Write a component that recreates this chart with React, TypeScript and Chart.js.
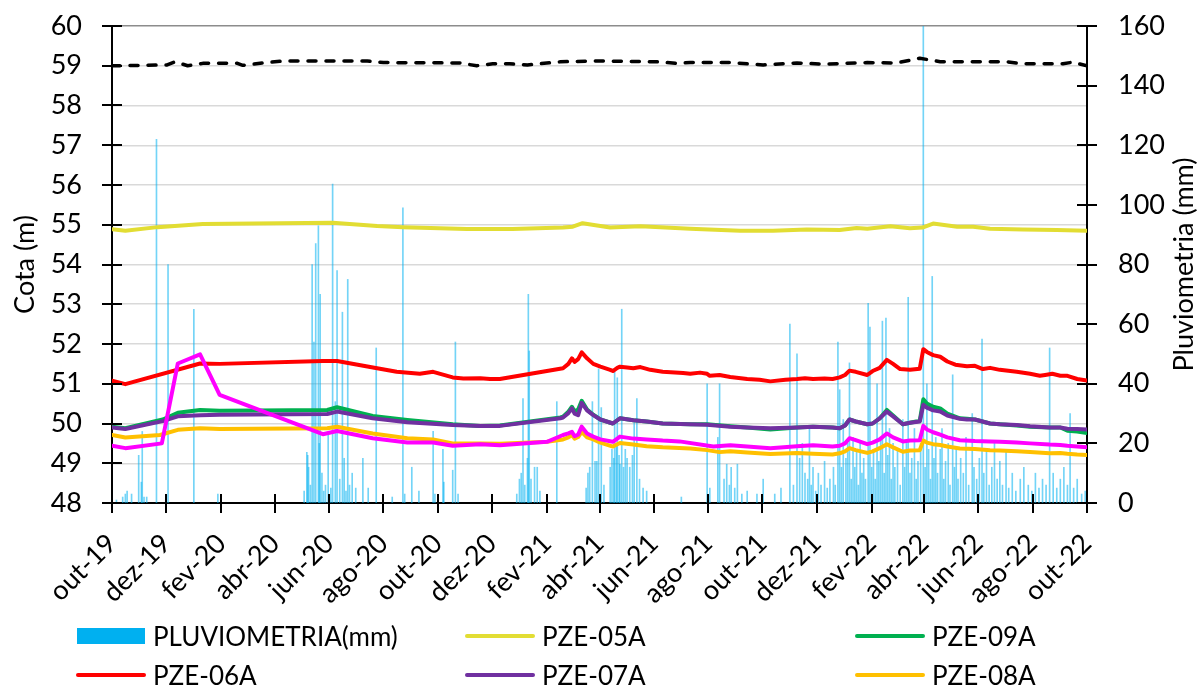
import React, { useEffect, useRef } from "react";
import { Chart, registerables } from "chart.js";

Chart.register(...registerables);

const FONT = "Lato, 'Open Sans', sans-serif";
const FONT_SIZE = 27;
const LEGEND_FONT_SIZE = 26;

// Day offsets (from 1 Oct 2019) of the two-monthly axis ticks and their labels
const monthTickDays = [0, 61, 123, 183, 244, 305, 366, 427, 489, 548, 609, 670, 731, 792, 854, 913, 974, 1035, 1096];
const monthTickLabels = [
  "out-19", "dez-19", "fev-20", "abr-20", "jun-20", "ago-20", "out-20", "dez-20", "fev-21",
  "abr-21", "jun-21", "ago-21", "out-21", "dez-21", "fev-22", "abr-22", "jun-22", "ago-22", "out-22",
];

const cotaTicks = [48, 49, 50, 51, 52, 53, 54, 55, 56, 57, 58, 59, 60];
const pluvTicks = [0, 20, 40, 60, 80, 100, 120, 140, 160];

// Daily rainfall [day, mm]
const rainfall: [number, number][] = [
  [5, 1], [12, 2], [15, 3], [17, 4], [22, 3], [30, 16], [33, 7], [34, 24], [36, 2], [39, 2], [50, 122], [63, 80], [92, 65], [119, 3],
  [216, 4], [219, 17], [220, 16], [221, 12], [223, 6], [225, 80], [227, 54], [229, 87], [232, 93], [233, 20], [234, 70], [236, 10],
  [238, 4], [240, 6], [243, 23], [246, 5], [248, 107], [251, 34], [253, 78], [256, 8], [259, 64], [261, 15], [263, 4], [265, 75],
  [267, 6], [270, 10], [274, 5], [282, 15], [288, 5], [297, 52], [315, 2],
  [327, 99], [329, 3], [337, 12], [345, 4], [361, 24], [363, 3], [372, 18], [373, 7], [383, 11], [386, 54], [389, 3],
  [455, 3], [458, 8], [460, 10], [462, 35], [464, 6], [467, 15], [468, 70], [469, 51], [471, 8], [475, 12], [478, 12], [481, 4], [500, 34],
  [533, 5], [535, 10], [537, 12], [540, 34], [543, 14], [545, 14], [547, 45], [550, 32], [553, 6], [560, 12], [562, 18], [564, 15],
  [565, 44], [567, 20], [568, 42], [570, 16], [571, 13], [573, 65], [575, 12], [577, 18], [579, 15], [582, 12], [585, 16], [587, 27],
  [590, 35], [593, 8], [597, 5], [601, 4],
  [640, 2], [669, 40], [672, 5], [681, 22], [683, 40], [688, 8], [691, 13], [694, 6], [696, 12], [700, 5], [703, 13], [708, 3],
  [714, 4], [725, 3], [732, 8],
  [745, 3], [752, 5], [762, 60], [766, 6], [770, 50], [773, 15], [776, 20], [779, 10], [782, 8], [784, 25], [786, 6], [788, 12],
  [791, 4], [794, 10], [797, 6], [801, 14], [804, 5], [807, 8], [811, 12], [813, 6], [816, 54], [818, 38], [820, 12], [822, 28],
  [825, 15], [827, 20], [829, 47], [831, 8], [833, 22], [835, 12], [837, 18], [839, 6], [841, 20], [843, 10], [845, 15], [847, 8],
  [850, 67], [852, 59], [854, 12], [856, 18], [858, 8], [860, 40], [862, 14], [864, 22], [866, 61], [868, 10], [870, 62], [872, 16],
  [874, 25], [876, 8], [878, 20], [880, 12], [883, 18], [886, 6], [889, 28], [891, 12], [893, 20], [895, 69], [897, 10], [899, 15],
  [902, 25], [904, 8], [906, 14], [909, 20], [912, 165], [914, 12], [916, 40], [918, 18], [920, 8], [922, 76], [924, 15], [926, 22],
  [928, 10], [931, 18], [933, 25], [935, 8], [937, 14], [940, 20], [942, 6], [945, 43], [947, 12], [949, 18], [951, 8], [954, 15],
  [957, 10], [960, 22], [963, 6], [967, 30], [969, 12], [972, 8], [975, 15], [978, 55], [980, 10], [983, 18], [986, 6], [989, 12],
  [992, 20], [995, 8], [998, 14], [1001, 6], [1005, 18], [1008, 5], [1012, 10], [1016, 4], [1021, 8], [1025, 12], [1030, 6],
  [1034, 4], [1038, 10], [1042, 5], [1046, 8], [1050, 6], [1054, 52], [1058, 10], [1062, 5], [1066, 8], [1070, 12], [1074, 6],
  [1077, 30], [1081, 5], [1085, 8], [1090, 3], [1094, 4],
];

// Piezometer water levels [day, m]
const pze05a: [number, number][] = [
  [0, 54.89], [15, 54.85], [51, 54.94], [102, 55.02], [248, 55.05], [298, 54.97], [327, 54.94], [399, 54.89], [450, 54.89],
  [507, 54.93], [518, 54.95], [529, 55.04], [549, 54.97], [560, 54.93], [594, 54.96], [650, 54.9], [706, 54.85], [743, 54.85],
  [781, 54.88], [818, 54.87], [837, 54.92], [849, 54.9], [875, 54.96], [897, 54.91], [911, 54.93], [923, 55.03], [950, 54.95],
  [968, 54.95], [987, 54.9], [1024, 54.88], [1062, 54.87], [1096, 54.85],
];

const pze09a: [number, number][] = [
  [0, 49.92], [15, 49.88], [57, 50.1], [74, 50.27], [99, 50.34], [121, 50.32], [242, 50.34], [253, 50.41], [293, 50.19],
  [332, 50.09], [383, 49.98], [414, 49.94], [436, 49.95], [504, 50.15], [507, 50.17], [513, 50.3], [517, 50.42], [520, 50.3],
  [524, 50.35], [528, 50.57], [534, 50.35], [541, 50.22], [549, 50.1], [563, 50.0], [571, 50.13], [586, 50.08], [601, 50.05],
  [619, 50.0], [650, 49.98], [669, 49.98], [695, 49.93], [714, 49.9], [740, 49.85], [770, 49.9], [788, 49.92], [810, 49.9],
  [818, 49.88], [824, 49.95], [829, 50.1], [836, 50.05], [849, 49.98], [855, 50.0], [863, 50.13], [871, 50.34], [878, 50.2],
  [889, 49.98], [897, 50.02], [908, 50.07], [912, 50.61], [916, 50.5], [923, 50.42], [931, 50.38], [939, 50.25], [953, 50.13],
  [961, 50.12], [970, 50.1], [987, 50.0], [998, 49.98], [1017, 49.95], [1032, 49.92], [1054, 49.9], [1066, 49.9], [1074, 49.82],
  [1085, 49.8], [1096, 49.76],
];

const pze06a: [number, number][] = [
  [0, 51.08], [15, 50.99], [99, 51.51], [121, 51.5], [237, 51.57], [253, 51.57], [298, 51.39], [320, 51.3], [346, 51.25],
  [361, 51.3], [383, 51.16], [395, 51.13], [414, 51.14], [425, 51.12], [436, 51.12], [507, 51.39], [513, 51.5], [517, 51.64],
  [520, 51.55], [524, 51.62], [528, 51.79], [534, 51.64], [541, 51.5], [549, 51.43], [560, 51.35], [563, 51.32], [568, 51.4],
  [571, 51.43], [579, 51.41], [586, 51.39], [594, 51.42], [605, 51.35], [619, 51.3], [642, 51.27], [650, 51.25], [661, 51.28],
  [669, 51.25], [672, 51.2], [683, 51.22], [695, 51.17], [714, 51.12], [728, 51.1], [740, 51.06], [757, 51.1], [770, 51.12],
  [779, 51.14], [788, 51.12], [801, 51.13], [810, 51.12], [818, 51.16], [824, 51.22], [829, 51.33], [836, 51.3], [849, 51.22],
  [855, 51.32], [863, 51.4], [871, 51.6], [878, 51.5], [886, 51.37], [897, 51.35], [908, 51.38], [912, 51.87], [916, 51.8],
  [923, 51.72], [931, 51.68], [939, 51.56], [948, 51.48], [961, 51.44], [970, 51.45], [979, 51.37], [987, 51.4], [998, 51.35],
  [1017, 51.3], [1032, 51.25], [1043, 51.2], [1049, 51.22], [1057, 51.25], [1066, 51.2], [1074, 51.2], [1085, 51.12], [1096, 51.08],
];

const pze07a: [number, number][] = [
  [0, 49.9], [15, 49.86], [57, 50.06], [74, 50.18], [99, 50.21], [121, 50.22], [242, 50.24], [253, 50.3], [293, 50.13],
  [332, 50.03], [383, 49.96], [414, 49.94], [436, 49.94], [504, 50.13], [507, 50.15], [513, 50.26], [517, 50.38], [520, 50.25],
  [524, 50.21], [528, 50.52], [534, 50.33], [541, 50.21], [549, 50.1], [563, 50.0], [571, 50.13], [586, 50.08], [601, 50.05],
  [619, 50.0], [638, 49.99], [669, 49.97], [695, 49.92], [714, 49.9], [740, 49.88], [770, 49.9], [788, 49.92], [810, 49.9],
  [818, 49.88], [824, 49.95], [829, 50.1], [836, 50.05], [849, 49.98], [855, 50.0], [863, 50.13], [871, 50.3], [878, 50.18],
  [889, 49.98], [897, 50.02], [908, 50.05], [912, 50.47], [916, 50.4], [923, 50.33], [931, 50.3], [939, 50.2], [953, 50.12],
  [961, 50.1], [970, 50.1], [987, 50.0], [998, 49.98], [1017, 49.96], [1032, 49.93], [1054, 49.9], [1066, 49.9], [1074, 49.87],
  [1085, 49.86], [1096, 49.85],
];

const pze08a: [number, number][] = [
  [0, 49.71], [15, 49.65], [54, 49.71], [74, 49.84], [99, 49.88], [121, 49.86], [242, 49.88], [253, 49.92], [293, 49.75],
  [332, 49.63], [361, 49.6], [383, 49.5], [414, 49.5], [436, 49.49], [489, 49.54], [507, 49.6], [513, 49.65], [517, 49.71],
  [520, 49.62], [524, 49.66], [528, 49.79], [534, 49.65], [541, 49.6], [549, 49.52], [563, 49.42], [571, 49.51], [586, 49.47],
  [601, 49.43], [619, 49.4], [650, 49.37], [669, 49.33], [683, 49.28], [695, 49.3], [714, 49.27], [740, 49.23], [770, 49.26],
  [788, 49.24], [810, 49.22], [818, 49.25], [824, 49.3], [829, 49.38], [836, 49.33], [849, 49.26], [855, 49.3], [863, 49.38],
  [871, 49.48], [878, 49.4], [889, 49.29], [897, 49.32], [908, 49.33], [912, 49.57], [916, 49.52], [923, 49.48], [931, 49.46],
  [939, 49.42], [953, 49.37], [970, 49.36], [987, 49.33], [998, 49.32], [1017, 49.3], [1032, 49.28], [1054, 49.25], [1066, 49.26],
  [1074, 49.24], [1085, 49.22], [1096, 49.21],
];

const pzeMagenta: [number, number][] = [
  [0, 49.44], [15, 49.38], [56, 49.5], [74, 51.51], [99, 51.74], [121, 50.72], [237, 49.73], [253, 49.81], [293, 49.63],
  [332, 49.52], [361, 49.52], [383, 49.44], [414, 49.48], [436, 49.45], [489, 49.54], [507, 49.71], [513, 49.75], [517, 49.79],
  [520, 49.68], [524, 49.72], [528, 49.92], [534, 49.75], [541, 49.67], [549, 49.6], [563, 49.54], [571, 49.67], [586, 49.62],
  [601, 49.6], [619, 49.57], [638, 49.55], [676, 49.42], [695, 49.45], [714, 49.42], [740, 49.38], [770, 49.43], [788, 49.45],
  [810, 49.42], [818, 49.44], [824, 49.5], [829, 49.63], [836, 49.58], [849, 49.48], [855, 49.52], [863, 49.6], [871, 49.75],
  [878, 49.65], [889, 49.55], [897, 49.57], [908, 49.58], [912, 49.94], [916, 49.85], [923, 49.78], [931, 49.72], [939, 49.65],
  [953, 49.58], [970, 49.56], [987, 49.55], [998, 49.54], [1017, 49.52], [1032, 49.5], [1054, 49.47], [1066, 49.46], [1074, 49.44],
  [1085, 49.42], [1096, 49.4],
];

const pzeBlack: [number, number][] = [
  [0, 59.0], [62, 59.02], [71, 59.1], [85, 59.0], [102, 59.06], [141, 59.06], [147, 59.01], [170, 59.07], [192, 59.12],
  [287, 59.12], [305, 59.08], [391, 59.07], [410, 59.0], [428, 59.05], [447, 59.05], [467, 59.02], [504, 59.1], [545, 59.12],
  [613, 59.1], [635, 59.06], [650, 59.08], [695, 59.08], [732, 59.02], [770, 59.07], [799, 59.04], [849, 59.08], [882, 59.07],
  [908, 59.19], [931, 59.1], [1006, 59.1], [1024, 59.05], [1069, 59.05], [1080, 59.09], [1096, 59.0],
];

const COLORS = {
  rain: "#00B0F0",
  pze05a: "#E2DD33",
  pze09a: "#00B050",
  pze06a: "#FF0000",
  pze07a: "#7030A0",
  pze08a: "#FFC000",
  magenta: "#FF00FF",
  black: "#000000",
};

const legendItems = [
  { label: "PLUVIOMETRIA(mm)", color: COLORS.rain, box: true },
  { label: "PZE-05A", color: COLORS.pze05a, box: false },
  { label: "PZE-09A", color: COLORS.pze09a, box: false },
  { label: "PZE-06A", color: COLORS.pze06a, box: false },
  { label: "PZE-07A", color: COLORS.pze07a, box: false },
  { label: "PZE-08A", color: COLORS.pze08a, box: false },
];

const toPoints = (s: [number, number][]) => s.map(([x, y]) => ({ x, y }));

const lineSet = (label: string, data: [number, number][], color: string, order: number, extra: any = {}) => ({
  type: "line" as const,
  label,
  data: toPoints(data),
  yAxisID: "y",
  borderColor: color,
  backgroundColor: color,
  borderWidth: 4,
  pointRadius: 0,
  tension: 0,
  fill: false,
  borderJoinStyle: "round" as const,
  borderCapStyle: "round" as const,
  order,
  ...extra,
});

// Tick marks crossing the axes and the two rotated axis titles
const axisDecor = {
  id: "axisDecor",
  afterDraw(chart: any) {
    const { ctx, scales, chartArea } = chart;
    const { x, y, y1 } = scales;
    ctx.save();
    ctx.strokeStyle = "#000";
    ctx.lineWidth = 2;
    ctx.beginPath();
    y.ticks.forEach((t: any) => {
      const py = Math.round(y.getPixelForValue(t.value));
      ctx.moveTo(y.right - 10, py);
      ctx.lineTo(y.right + 10, py);
    });
    y1.ticks.forEach((t: any) => {
      const py = Math.round(y1.getPixelForValue(t.value));
      ctx.moveTo(y1.left - 10, py);
      ctx.lineTo(y1.left + 10, py);
    });
    x.ticks.forEach((t: any) => {
      const px = Math.round(x.getPixelForValue(t.value));
      ctx.moveTo(px, x.top - 9);
      ctx.lineTo(px, x.top + 10);
    });
    ctx.stroke();

    const midY = (chartArea.top + chartArea.bottom) / 2;
    ctx.fillStyle = "#000";
    ctx.font = `${FONT_SIZE}px ${FONT}`;
    ctx.textAlign = "center";
    ctx.textBaseline = "middle";
    ctx.save();
    ctx.translate(25, midY);
    ctx.rotate(-Math.PI / 2);
    ctx.fillText("Cota (m)", 0, 0);
    ctx.restore();
    ctx.save();
    ctx.translate(1184, midY);
    ctx.rotate(-Math.PI / 2);
    ctx.fillText("Pluviometria (mm)", 0, 0);
    ctx.restore();
    ctx.restore();
  },
};

// Fixed axis sizes; the label overhang is already covered by the layout padding
const fitVertical = (scale: any) => {
  scale.width = 112;
  scale.paddingTop = 0;
  scale.paddingBottom = 0;
};

export default function App() {
  const canvasRef = useRef<HTMLCanvasElement>(null);

  useEffect(() => {
    if (!canvasRef.current) return;
    Chart.defaults.font.family = FONT;
    Chart.defaults.color = "#000";

    const chart = new Chart(canvasRef.current, {
      type: "bar",
      data: {
        datasets: [
          {
            type: "bar",
            label: "PLUVIOMETRIA(mm)",
            data: toPoints(rainfall),
            yAxisID: "y1",
            backgroundColor: "rgba(0,176,240,0.55)",
            borderWidth: 0,
            barThickness: 1,
            order: 8,
          } as any,
          lineSet("PZE-05A", pze05a, COLORS.pze05a, 7),
          lineSet("PZE-09A", pze09a, COLORS.pze09a, 6),
          lineSet("PZE-06A", pze06a, COLORS.pze06a, 5),
          lineSet("PZE-07A", pze07a, COLORS.pze07a, 4),
          lineSet("PZE-08A", pze08a, COLORS.pze08a, 3),
          lineSet("PZE-10A", pzeMagenta, COLORS.magenta, 2),
          lineSet("PZE-01A", pzeBlack, COLORS.black, 1, {
            borderWidth: 3.5,
            borderDash: [8, 10],
            borderCapStyle: "round",
          }),
        ],
      },
      options: {
        responsive: false,
        animation: false,
        layout: { padding: { top: 26, left: 0, right: 0, bottom: 0 } },
        plugins: {
          legend: { display: false },
          tooltip: { enabled: false },
          title: { display: false },
        },
        scales: {
          x: {
            type: "linear",
            min: 0,
            max: 1096,
            offset: false,
            grid: { display: false, offset: false, drawTicks: false },
            border: { display: true, color: "#000", width: 2 },
            afterBuildTicks: (scale: any) => {
              scale.ticks = monthTickDays.map((v) => ({ value: v }));
            },
            afterFit: (scale: any) => {
              scale.height = 187;
            },
            ticks: {
              autoSkip: false,
              minRotation: 45,
              maxRotation: 45,
              padding: 34,
              font: { size: FONT_SIZE, lineHeight: 0.2 },
              color: "#000",
              callback: (_v: any, i: number) => monthTickLabels[i],
            },
          },
          y: {
            type: "linear",
            position: "left",
            min: 48,
            max: 60,
            afterBuildTicks: (scale: any) => {
              scale.ticks = cotaTicks.map((v) => ({ value: v }));
            },
            afterFit: fitVertical,
            grid: {
              drawTicks: false,
              color: (c: any) => (c.tick && c.tick.value === 60 ? "#8c8c8c" : "#d9d9d9"),
              lineWidth: 1.5,
            },
            border: { display: true, color: "#000", width: 2 },
            ticks: { padding: 30, font: { size: FONT_SIZE }, color: "#000" },
          },
          y1: {
            type: "linear",
            position: "right",
            min: 0,
            max: 160,
            afterBuildTicks: (scale: any) => {
              scale.ticks = pluvTicks.map((v) => ({ value: v }));
            },
            afterFit: fitVertical,
            grid: { display: false, drawTicks: false },
            border: { display: true, color: "#000", width: 2 },
            ticks: { padding: 31, font: { size: FONT_SIZE }, color: "#000" },
          },
        },
      } as any,
      plugins: [axisDecor],
    });

    return () => chart.destroy();
  }, []);

  const cols = [76, 465, 855];
  const rows = [636, 675];

  return (
    <div style={{ position: "absolute", left: 0, top: 0, width: 1199, height: 690, background: "#fff", overflow: "hidden" }}>
      <canvas ref={canvasRef} width={1199} height={690} style={{ position: "absolute", left: 0, top: 0, width: 1199, height: 690 }} />
      {legendItems.map((item, i) => {
        const left = cols[i % 3] + (item.box ? 1 : 0);
        const cy = rows[Math.floor(i / 3)];
        return (
          <div
            key={item.label}
            style={{
              position: "absolute",
              left,
              top: cy - 18,
              height: 36,
              display: "flex",
              alignItems: "center",
              fontFamily: FONT,
              fontSize: LEGEND_FONT_SIZE,
              color: "#000",
              whiteSpace: "nowrap",
            }}
          >
            <span
              style={{
                display: "inline-block",
                width: item.box ? 68 : 70,
                height: item.box ? 16 : 4,
                borderRadius: item.box ? 0 : 2,
                background: item.color,
                marginRight: item.box ? 8 : 7,
              }}
            />
            <span>{item.label}</span>
          </div>
        );
      })}
    </div>
  );
}
